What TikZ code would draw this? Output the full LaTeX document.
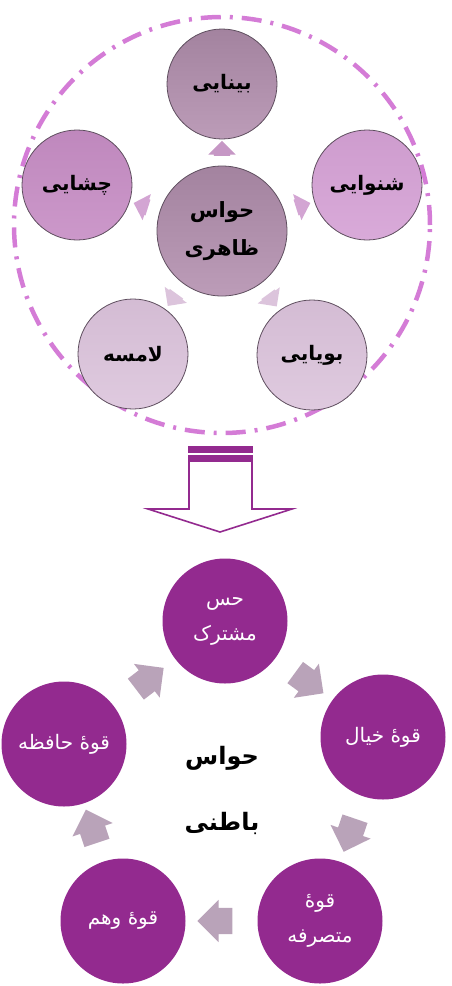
\documentclass[tikz,border=0pt]{standalone}
\usepackage{fontspec}
\usetikzlibrary{shapes.arrows}
\newfontfamily\arabicfont[Script=Arabic]{DejaVu Sans}
\TeXXeTstate=1

\definecolor{dashpink}{HTML}{D47CD6}
\definecolor{deeppurple}{HTML}{932A8F}
\definecolor{greymauve}{HTML}{B9A3B9}
\definecolor{ringline}{HTML}{5E4E5E}
\definecolor{mauvetop}{HTML}{A3839F}
\definecolor{mauvebot}{HTML}{BC9CB8}
\definecolor{pinktop}{HTML}{BF88BD}
\definecolor{pinkbot}{HTML}{CC98CA}
\definecolor{rosetop}{HTML}{CE9CCE}
\definecolor{rosebot}{HTML}{D9AAD9}
\definecolor{palepink}{HTML}{D4BCD4}
\definecolor{paleback}{HTML}{DFCADF}
\definecolor{tipmauve}{HTML}{C697C5}
\definecolor{tippink}{HTML}{D3A5D3}
\definecolor{tippale}{HTML}{DCC4DC}

\tikzset{
  sense/.style={circle, draw=ringline, line width=0.8pt, minimum size=110pt,
    inner sep=0pt, align=center, text=black,
    font=\arabicfont\bfseries\fontsize{20}{22}\selectfont},
  power/.style={circle, fill=deeppurple, minimum size=125pt, inner sep=0pt,
    align=center, text=white, font=\arabicfont\fontsize{20}{35}\selectfont},
  pointer/.style={single arrow, sloped, allow upside down, inner xsep=0pt,
    inner ysep=8pt, single arrow head extend=5.5pt, minimum height=15pt},
  flowtip/.style={single arrow, sloped, allow upside down, inner xsep=0pt,
    inner ysep=13pt, fill=greymauve, single arrow head extend=8pt,
    minimum height=35pt},
  ring/.style={dashpink, line width=4.5pt,
    dash pattern=on 20pt off 9pt on 3pt off 9pt}
}

\begin{document}
\begin{tikzpicture}[x=1pt,y=-1pt]
  \useasboundingbox (0,0) rectangle (452,986);

  % outer senses
  \coordinate (hub) at (222,225);
  \draw[ring] (hub) circle[radius=208pt];

  \node[sense, top color=mauvetop, bottom color=mauvebot, minimum size=130pt,
    font=\arabicfont\bfseries\fontsize{21}{38}\selectfont]
    (outer) at (222,231) {\beginR حواس\endR\\\beginR ظاهری\endR};
  \node[sense, top color=mauvetop, bottom color=mauvebot] (seeing) at (222,84) {\beginR بینایی\endR};
  \node[sense, top color=pinktop, bottom color=pinkbot] (tasting) at (77,185) {\beginR چشایی\endR};
  \node[sense, top color=rosetop, bottom color=rosebot] (hearing) at (367,185) {\beginR شنوایی\endR};
  \node[sense, top color=palepink, bottom color=paleback] (touch) at (133,354) {\beginR لامسه\endR};
  \node[sense, top color=palepink, bottom color=paleback] (smell) at (312,355) {\beginR بویایی\endR};

  \path (outer) -- node[pointer, fill=tipmauve] {} (seeing);
  \path (outer) -- node[pointer, fill=tippink] {} (tasting);
  \path (outer) -- node[pointer, fill=tippink] {} (hearing);
  \path (outer) -- node[pointer, fill=tippale] {} (touch);
  \path (outer) -- node[pointer, fill=tippale] {} (smell);

  % hollow arrow
  \fill[deeppurple] (188,446) rectangle (253,453);
  \fill[deeppurple] (188,455) rectangle (253,462);
  \draw[deeppurple, line width=1.6pt, line join=miter]
    (189,462) -- (189,509) -- (148,509) -- (220,532) -- (292,509) -- (252,509) -- (252,462);

  % inner senses
  \node[text=black, align=center, font=\arabicfont\bfseries\fontsize{24}{66}\selectfont]
    (inner) at (222,790) {\beginR حواس\endR\\\beginR باطنی\endR};

  \node[power] (common) at (225,621) {\beginR حس\endR\\\beginR مشترک\endR};
  \node[power] (imagin) at (383,737) {\beginR قوهٔ خیال\endR};
  \node[power] (dispose) at (320,921) {\beginR قوهٔ\endR\\\beginR متصرفه\endR};
  \node[power] (estim) at (123,921) {\beginR قوهٔ وهم\endR};
  \node[power] (memory) at (64,744) {\beginR قوهٔ حافظه\endR};

  \path (common) -- node[flowtip] {} (imagin);
  \path (imagin) -- node[flowtip] {} (dispose);
  \path (dispose) -- node[flowtip] {} (estim);
  \path (estim) -- node[flowtip] {} (memory);
  \path (memory) -- node[flowtip] {} (common);
\end{tikzpicture}
\end{document}
